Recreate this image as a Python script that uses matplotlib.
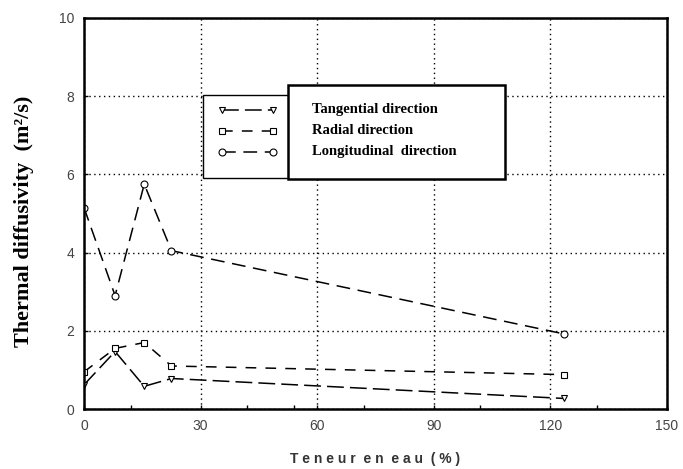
import matplotlib
matplotlib.use("Agg")
import matplotlib.pyplot as plt
from matplotlib.patches import Rectangle

# Data
water_content = [0, 8, 15.5, 22.5, 123.5]
tangential = [0.62, 1.47, 0.58, 0.78, 0.27]
radial = [0.95, 1.55, 1.70, 1.10, 0.88]
longitudinal = [5.15, 2.90, 5.75, 4.05, 1.92]

series_labels = ["Tangential direction", "Radial direction", "Longitudinal  direction"]
x_ticks = [0, 30, 60, 90, 120, 150]
x_minor = [12, 42, 54, 72, 102, 132]
y_ticks = [0, 2, 4, 6, 8, 10]

fig = plt.figure(figsize=(6.83, 4.69), dpi=100)
ax = fig.add_axes([84/683, 1-409/469, (667-84)/683, (409-18)/469])

def ax_x(px):
    return (px - 84) / 583

def ax_y(py):
    return (409 - py) / 391

mk = dict(markersize=5, markerfacecolor="white", markeredgecolor="black", markeredgewidth=0.8)
l1, = ax.plot(water_content, tangential, color="black", lw=1.1, ls=(0, (11, 4)), marker="v", **mk)
l2, = ax.plot(water_content, radial, color="black", lw=1.1, ls=(0, (7, 6)), marker="s", **mk)
l3, = ax.plot(water_content, longitudinal, color="black", lw=1.1, ls=(0, (9, 5)), marker="o", **mk)

ax.set_xlim(0, 150)
ax.set_ylim(0, 10)
ax.set_xticks(x_ticks)
ax.set_xticks(x_minor, minor=True)
ax.set_yticks(y_ticks)
ax.grid(True, which="major", color="black", lw=1.0, ls=(0, (1, 2.5)))
ax.tick_params(which="both", direction="in", length=3, width=1, top=False, right=False)
ax.tick_params(which="major", labelsize=10, labelcolor="#444444", pad=7)
for lab in ax.get_xticklabels() + ax.get_yticklabels():
    lab.set_family("Liberation Sans")
for s in ax.spines.values():
    s.set_linewidth(1.8)

ax.set_ylabel("Thermal diffusivity  (m²/s)", family="Liberation Serif", fontsize=16,
              fontweight="bold")
ax.yaxis.set_label_coords(ax_x(34), ax_y(221))
ax.set_xlabel("T e n e u r  e n  e a u  ( % )", family="Liberation Sans", fontsize=10,
              fontweight="bold", color="#333333", labelpad=14)

# Legend symbol box (left), partially covered by the label box
ax.add_patch(Rectangle((ax_x(203), ax_y(178)), (310-203)/583, (178-95)/391,
                       transform=ax.transAxes, facecolor="white", edgecolor="black",
                       lw=1.0, zorder=5))
leg = ax.legend([l1, l2, l3], ["", "", ""], loc="upper left",
                bbox_to_anchor=(ax_x(204), ax_y(91)), numpoints=2,
                handlelength=4.7, handletextpad=0.0, labelspacing=0.62,
                frameon=False, borderpad=0.6, fontsize=9)
leg.set_zorder(6)

# Text box with labels
ax.add_patch(Rectangle((ax_x(288), ax_y(179)), (505-288)/583, (179-85)/391,
                       transform=ax.transAxes, facecolor="white", edgecolor="black",
                       lw=1.8, zorder=7))
for i, lab in enumerate(series_labels):
    ypix = [109, 131, 152][i]
    ax.text(ax_x(312), ax_y(ypix), lab, transform=ax.transAxes,
            family="Liberation Serif", fontweight="bold", fontsize=10.5,
            va="center", ha="left", zorder=8)

fig.savefig("out.png", dpi=100)
